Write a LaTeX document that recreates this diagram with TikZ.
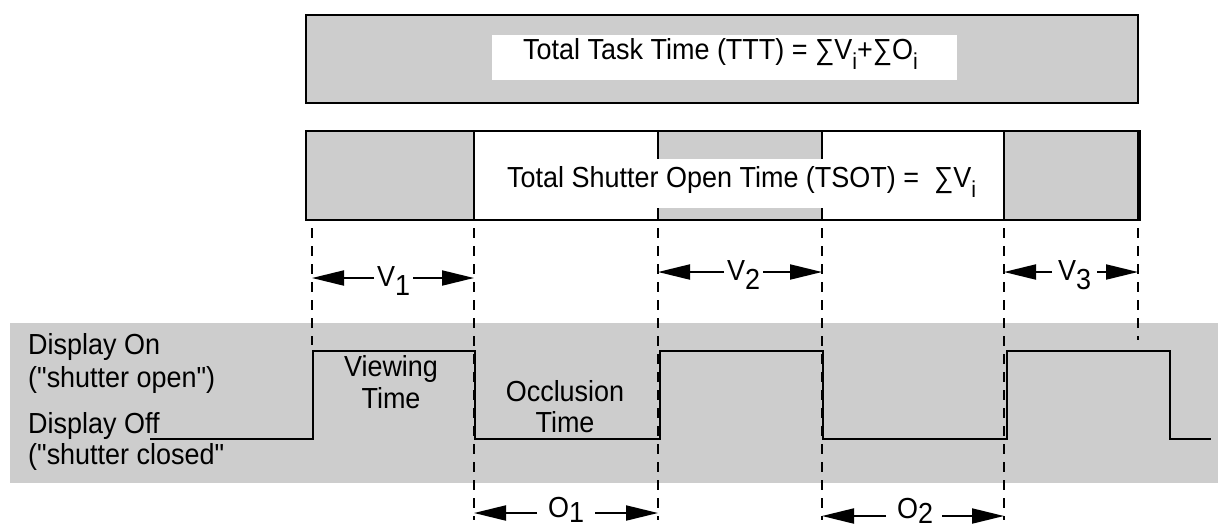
\documentclass[tikz,border=0pt]{standalone}
\usepackage{fontspec}
\newfontfamily\lib{Liberation Sans}[FakeStretch=0.93]
\usetikzlibrary{arrows.meta}
\definecolor{halftone}{RGB}{205,205,205}
\newcommand\lsub[1]{\raisebox{-0.36em}{\fontsize{23}{23}\selectfont #1}}
\newcommand\dsub[1]{\raisebox{-9pt}{#1}}
\newcommand\osub[1]{\raisebox{-5pt}{#1}}
\begin{document}
\begin{tikzpicture}[x=1pt,y=-1pt,
  txt/.style={inner sep=0pt, font=\lib\fontsize{29}{32}\selectfont},
  lbl/.style={txt, anchor=base west},
  ctr/.style={txt, anchor=base},
  boxline/.style={line width=2.5pt},
  guide/.style={line width=2.2pt, dash pattern=on 10pt off 8pt},
  wave/.style={line width=2.5pt, line join=miter},
  dim/.style={line width=2pt, -{Triangle[length=32pt,width=15pt]}},
]
\useasboundingbox (0,0) rectangle (1218,528);
% grey band behind the waveform
\fill[halftone] (10,323) rectangle (1218,483);
% Total task time box
\draw[boxline, fill=halftone] (306,15) rectangle (1138,103);
\fill[white] (492,35) rectangle (957,80);
\node[lbl] (ttt) at (523,59) {Total Task Time (TTT) = ∑V\lsub{i}+∑O\lsub{i}};
% Total shutter open time box
\fill[halftone] (306,131) rectangle (474,220);
\fill[halftone] (658,131) rectangle (822,220);
\fill[halftone] (1004,131) rectangle (1140,220);
\draw[boxline] (306,131) rectangle (1140,220);
\foreach \x in {474,658,822,1004} \draw[boxline] (\x,131) -- (\x,220);
\draw[line width=4pt] (1139,131) -- (1139,220);
\fill[white] (490,159) rectangle (995,208);
\node[lbl] (tsot) at (507,187) {Total Shutter Open Time (TSOT) =\ \ ∑V\lsub{i}};
% guide lines
\coordinate (g1t) at (312,228); \coordinate (g1b) at (312,345);
\coordinate (g2t) at (474,228); \coordinate (g2b) at (474,520);
\coordinate (g3t) at (658,228); \coordinate (g3b) at (658,520);
\coordinate (g4t) at (822,228); \coordinate (g4b) at (822,520);
\coordinate (g5t) at (1004,228); \coordinate (g5b) at (1004,520);
\coordinate (g6t) at (1138,228); \coordinate (g6b) at (1138,340);
\foreach \g in {1,...,6} \draw[guide] (g\g t) -- (g\g b);
% waveform
\draw[wave] (150,439) -- (313,439) -- (313,351) -- (475,351) -- (475,439)
  -- (660,439) -- (660,351) -- (823,351) -- (823,439) -- (1007,439)
  -- (1007,351) -- (1170,351) -- (1170,439) -- (1211,439);
% left labels
\node[lbl] (on1) at (28,354) {Display On};
\node[lbl] (on2) at (28,387) {("shutter open")};
\node[lbl] (off1) at (28,433) {Display Off};
\node[lbl] (off2) at (28,464) {("shutter closed"};
% inner labels
\node[ctr] (view1) at (391,376) {Viewing};
\node[ctr] (view2) at (391,408) {Time};
\node[ctr] (occ1) at (565,401) {Occlusion};
\node[ctr] (occ2) at (565,432) {Time};
% dimension arrows
\coordinate (a1l) at (312,278); \coordinate (a1r) at (474,278);
\coordinate (a2l) at (658,272); \coordinate (a2r) at (822,272);
\coordinate (a3l) at (1004,272); \coordinate (a3r) at (1138,272);
\coordinate (b1l) at (474,513); \coordinate (b1r) at (658,513);
\coordinate (b2l) at (822,516); \coordinate (b2r) at (1004,516);
\node[lbl] (v1) at (377,286) {V\dsub{1}};
\node[lbl] (v2) at (727,280) {V\dsub{2}};
\node[lbl] (v3) at (1058,280) {V\dsub{3}};
\node[lbl] (o1) at (548,517) {O\osub{1}};
\node[lbl] (o2) at (897,518) {O\osub{2}};
\draw[dim] ([xshift=-3pt]v1.west |- a1l) -- (a1l);
\draw[dim] ([xshift=3pt]v1.east |- a1r) -- (a1r);
\draw[dim] ([xshift=-3pt]v2.west |- a2l) -- (a2l);
\draw[dim] ([xshift=3pt]v2.east |- a2r) -- (a2r);
\draw[dim] ([xshift=-6pt]v3.west |- a3l) -- (a3l);
\draw[dim] ([xshift=6pt]v3.east |- a3r) -- (a3r);
\draw[dim] ([xshift=-11pt]o1.west |- b1l) -- (b1l);
\draw[dim] ([xshift=11pt]o1.east |- b1r) -- (b1r);
\draw[dim] ([xshift=-11pt]o2.west |- b2l) -- (b2l);
\draw[dim] ([xshift=9pt]o2.east |- b2r) -- (b2r);
\end{tikzpicture}
\end{document}
